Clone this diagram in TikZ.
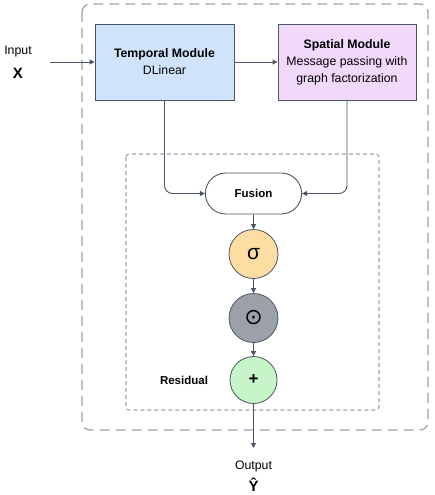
\documentclass[tikz,border=0pt]{standalone}
\usepackage{fontspec}
\setmainfont{Liberation Sans}
\newfontfamily\symfont{DejaVu Sans}
\usetikzlibrary{arrows.meta,shapes.misc}
\definecolor{lineC}{HTML}{4B5563}
\definecolor{dashC}{HTML}{9CA3AF}
\definecolor{blueF}{HTML}{CFE4FC}
\definecolor{purpF}{HTML}{F1D9FB}
\definecolor{orF}{HTML}{FEDDA3}
\definecolor{grF}{HTML}{9CA0A8}
\definecolor{gnF}{HTML}{C7F5C9}
\tikzset{
  modbox/.style={draw=lineC, line width=0.9pt, minimum width=139pt, minimum height=76pt, align=center, font=\fontsize{12.3}{17}\selectfont},
  opcirc/.style={circle, draw=lineC, line width=0.8pt, minimum size=49pt, inner sep=0pt},
  conn/.style={draw=lineC, line width=0.9pt, -{Triangle[length=5pt,width=5pt]}},
  lbl/.style={font=\fontsize{12.3}{14}\selectfont}
}
\begin{document}
\begin{tikzpicture}[x=1pt,y=-1pt]
\useasboundingbox (0,0) rectangle (434,495);
% outer dashed frame
\draw[dashC, line width=1.3pt, dash pattern=on 10pt off 6pt, rounded corners=8pt] (82,4) rectangle (428,430);
% inner dashed frame
\draw[dashC, line width=1.1pt, dash pattern=on 4pt off 3pt, rounded corners=3pt] (126,154) rectangle (379,410);

\node[modbox, fill=blueF] (tm) at (164.5,62) {\textbf{Temporal Module}\\DLinear};
\node[modbox, fill=purpF, minimum width=138pt] (sm) at (347,62) {\textbf{Spatial Module}\\Message passing with\\graph factorization};

\node[lbl] (inlbl) at (18,52) {Input};
\node[font=\fontsize{15}{17}\selectfont\bfseries] (inx) at (18,73) {X};
\coordinate (inS) at (50,62);

\node[rounded rectangle, draw=lineC, line width=0.9pt, fill=white, minimum width=103pt, minimum height=41pt, font=\fontsize{11.5}{13}\selectfont\bfseries] (fu) at (253.5,193.5) {Fusion};

\node[opcirc, fill=orF, font=\fontsize{21}{23}\selectfont] (sg) at (253.5,254) {σ};
\node[opcirc, fill=grF, font=\symfont\fontsize{22}{24}\selectfont] (od) at (253.5,318) {⊙};
\node[opcirc, fill=gnF, minimum size=47pt, font=\fontsize{17}{19}\selectfont\bfseries] (pl) at (253.5,380) {+};
\node[font=\fontsize{11.5}{13}\selectfont\bfseries] (res) at (184,380) {Residual};

\coordinate (outE) at (253.5,448);
\node[lbl] (outlbl) at (253.5,466) {Output};
\node[font=\fontsize{15}{17}\selectfont\bfseries] (outy) at (253.5,485) {Ŷ};

\draw[conn] (inS) -- (tm.west);
\draw[conn] (tm.east) -- (sm.west);
\draw[conn, rounded corners=8pt] (tm.south) -- (tm.south |- fu.west) -- (fu.west);
\draw[conn, rounded corners=8pt] (sm.south) -- (sm.south |- fu.east) -- (fu.east);
\draw[conn] (fu) -- (sg);
\draw[conn] (sg) -- (od);
\draw[conn] (od) -- (pl);
\draw[conn] (pl) -- (outE);
\end{tikzpicture}
\end{document}
